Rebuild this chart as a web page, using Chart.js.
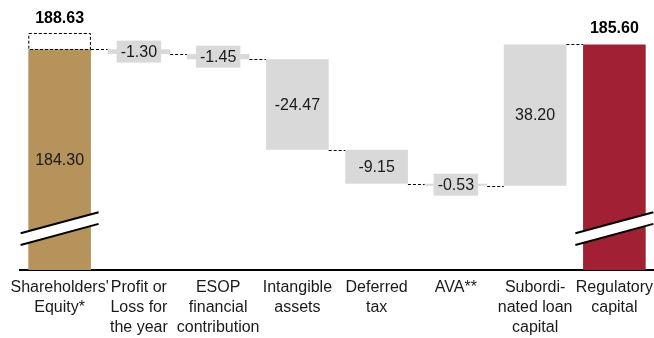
<!DOCTYPE html>
<html>
<head>
<meta charset="utf-8">
<script src="https://cdn.jsdelivr.net/npm/chart.js@4.4.1/dist/chart.umd.min.js"></script>
<style>
  html, body { margin: 0; padding: 0; background: #ffffff; }
  #wrap { position: relative; width: 654px; height: 338px; }
</style>
</head>
<body>
<div id="wrap"><canvas id="c"></canvas></div>
<script>
// ---- data ----
const categories = [
  ["Shareholders'", "Equity*"],
  ["Profit or", "Loss for", "the year"],
  ["ESOP", "financial", "contribution"],
  ["Intangible", "assets"],
  ["Deferred", "tax"],
  ["AVA**"],
  ["Subordi-", "nated loan", "capital"],
  ["Regulatory", "capital"]
];
const startValue = 184.30;      // Shareholders' Equity
const reportedEquity = 188.63;  // dashed box value
const steps = [-1.30, -1.45, -24.47, -9.15, -0.53, 38.20];
const endValue = 185.60;        // Regulatory capital
const axisMin = 124.6;
const axisMax = 197.6;
const breakValue = 135.8;

const colors = { gold: "#b5935b", red: "#a12033", gray: "#d9d9d9" };

// running levels
const levels = [startValue];
steps.forEach(s => levels.push(+(levels[levels.length - 1] + s).toFixed(2)));

const barData = [[axisMin, startValue]];
steps.forEach((s, i) => {
  const a = levels[i], b = levels[i + 1];
  barData.push([Math.min(a, b), Math.max(a, b)]);
});
barData.push([axisMin, endValue]);

const barColors = [colors.gold].concat(steps.map(() => colors.gray), [colors.red]);

const FONT = "'Liberation Sans', Arial, Helvetica, sans-serif";

const decorPlugin = {
  id: 'decor',
  afterDatasetsDraw(chart) {
    const ctx = chart.ctx;
    const meta = chart.getDatasetMeta(0);
    const y = chart.scales.y;
    const els = meta.data;
    ctx.save();

    // connectors
    ctx.strokeStyle = "#000";
    ctx.lineWidth = 1;
    ctx.setLineDash([3, 2]);
    for (let i = 0; i < els.length - 1; i++) {
      const lv = i < levels.length ? levels[i] : endValue;
      const py = Math.round(y.getPixelForValue(lv)) + 0.5;
      const x1 = els[i].x + els[i].width / 2;
      const x2 = els[i + 1].x - els[i + 1].width / 2;
      ctx.beginPath();
      ctx.moveTo(x1, py);
      ctx.lineTo(x2, py);
      ctx.stroke();
    }

    // dashed box for reported equity
    const e0 = els[0];
    const bx1 = e0.x - e0.width / 2 + 0.5;
    const bx2 = e0.x + e0.width / 2 - 0.5;
    const byTop = Math.round(y.getPixelForValue(reportedEquity)) + 0.5;
    const byBot = Math.round(y.getPixelForValue(startValue)) + 0.5;
    ctx.strokeRect(bx1, byTop, bx2 - bx1, byBot - byTop);
    ctx.setLineDash([]);

    // breaks on total bars
    [els[0], els[els.length - 1]].forEach(el => {
      const ym = y.getPixelForValue(breakValue);
      const half = 39, slope = 0.27, gap = 5.85;
      const xa = el.x - half, xb = el.x + half;
      const ua = ym - gap + slope * half, ub = ym - gap - slope * half;
      const la = ym + gap + slope * half, lb = ym + gap - slope * half;
      ctx.fillStyle = "#ffffff";
      ctx.beginPath();
      ctx.moveTo(xa, ua); ctx.lineTo(xb, ub); ctx.lineTo(xb, lb); ctx.lineTo(xa, la);
      ctx.closePath();
      ctx.fill();
      ctx.strokeStyle = "#000";
      ctx.lineWidth = 2;
      ctx.beginPath(); ctx.moveTo(xa, ua); ctx.lineTo(xb, ub); ctx.stroke();
      ctx.beginPath(); ctx.moveTo(xa, la); ctx.lineTo(xb, lb); ctx.stroke();
    });

    // value labels
    ctx.textAlign = "center";
    ctx.textBaseline = "middle";
    ctx.font = "16px " + FONT;
    steps.forEach((s, i) => {
      const el = els[i + 1];
      const cy = (el.y + el.base) / 2;
      const txt = s.toFixed(2);
      const w = ctx.measureText(txt).width + 8;
      ctx.fillStyle = colors.gray;
      ctx.fillRect(el.x - w / 2, cy - 11, w, 22);
      ctx.fillStyle = "#1a1a1a";
      ctx.fillText(txt, el.x, cy + 1);
    });
    // equity label inside gold bar
    ctx.fillStyle = "#1a1a1a";
    ctx.fillText(startValue.toFixed(2), e0.x, (e0.y + e0.base) / 2 + 1);

    // bold totals
    ctx.font = "bold 16px " + FONT;
    ctx.fillStyle = "#000";
    ctx.fillText(reportedEquity.toFixed(2), e0.x, y.getPixelForValue(reportedEquity) - 15);
    const eL = els[els.length - 1];
    ctx.fillText(endValue.toFixed(2), eL.x, y.getPixelForValue(endValue) - 16);

    ctx.restore();
  }
};

new Chart(document.getElementById('c'), {
  type: 'bar',
  data: {
    labels: categories,
    datasets: [{
      data: barData,
      backgroundColor: barColors,
      borderWidth: 0,
      categoryPercentage: 1,
      barPercentage: 0.79
    }]
  },
  options: {
    responsive: true,
    maintainAspectRatio: false,
    animation: false,
    layout: { padding: { left: 20, right: 0, top: 0, bottom: 0 } },
    plugins: { legend: { display: false }, tooltip: { enabled: false } },
    scales: {
      x: {
        grid: { display: false, drawTicks: false },
        border: { display: true, color: "#000", width: 2 },
        afterFit(scale) {
          scale.paddingLeft = 0;
          scale.paddingRight = 0;
          scale.height = 68;
        },
        ticks: {
          autoSkip: false, maxRotation: 0, minRotation: 0, padding: 8,
          color: "#1a1a1a",
          font: { family: FONT, size: 16, lineHeight: 1.25 }
        }
      },
      y: {
        display: false,
        min: axisMin,
        max: axisMax
      }
    }
  },
  plugins: [decorPlugin]
});
</script>
</body>
</html>
